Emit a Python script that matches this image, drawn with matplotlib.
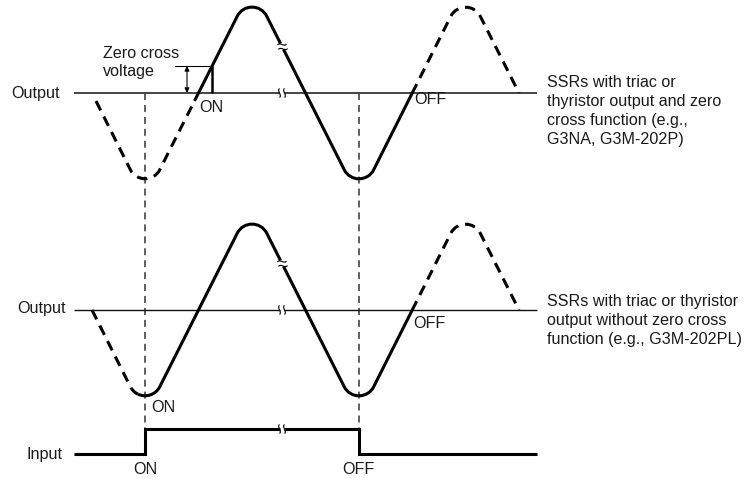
import math
import matplotlib
matplotlib.use("Agg")
import matplotlib.pyplot as plt
from matplotlib.path import Path
from matplotlib.patches import PathPatch

plt.rcParams['lines.scale_dashes'] = False
plt.rcParams['font.family'] = ['Liberation Sans', 'DejaVu Sans']

# ---------------- data (diagram units = pixels) ----------------
top_base_y = 93
mid_base_y = 310
input_low_y = 454
input_high_y = 429

# triangle-wave turning points (start, trough, peak, trough, peak, end)
wave_x = [92, 145, 252, 359, 465.5, 519]
wave_level = [0, -106, 106, -106, 106, 0]
corner_r = 16.5

# x-ranges of each drawn piece of the waveforms
top_pieces = [((96, 194.5), 'dashed'), ((194.5, 280.5), 'solid'),
              ((283.5, 412), 'solid'), ((412, 519), 'dashed')]
mid_pieces = [((92, 138), 'dashed'), ((138, 280.5), 'solid'),
              ((283.5, 412), 'solid'), ((412, 519), 'dashed')]

baseline_x = [74, 280, 284, 537]
input_x = [74, 145, 145, 280]
input_lvl = [0, 0, 1, 1]
input_x2 = [284, 359, 359, 537]
input_lvl2 = [1, 1, 0, 0]
marker_x = [145, 359]

zero_cross_v = 27
on_x = 211.5

top_label = "SSRs with triac or\nthyristor output and zero\ncross function (e.g.,\nG3NA, G3M-202P)"
mid_label = "SSRs with triac or thyristor\noutput without zero cross\nfunction (e.g., G3M-202PL)"

# ---------------- helpers ----------------
def unit(v):
    n = math.hypot(v[0], v[1])
    return (v[0] / n, v[1] / n)

def build_prims(base):
    pts = [(x, base - v) for x, v in zip(wave_x, wave_level)]
    prims = []
    cur = pts[0]
    for i in range(1, len(pts) - 1):
        a = pts[i]
        d1 = unit((a[0] - pts[i - 1][0], a[1] - pts[i - 1][1]))
        d2 = unit((pts[i + 1][0] - a[0], pts[i + 1][1] - a[1]))
        cosb = -(d1[0] * d2[0] + d1[1] * d2[1])
        beta = math.acos(max(-1, min(1, cosb)))
        L = corner_r / math.tan(beta / 2)
        phi = math.pi - beta
        k = 4.0 / 3.0 * math.tan(phi / 4) * corner_r
        t1 = (a[0] - d1[0] * L, a[1] - d1[1] * L)
        t2 = (a[0] + d2[0] * L, a[1] + d2[1] * L)
        c1 = (t1[0] + d1[0] * k, t1[1] + d1[1] * k)
        c2 = (t2[0] - d2[0] * k, t2[1] - d2[1] * k)
        prims.append(('L', cur, t1))
        prims.append(('C', t1, c1, c2, t2))
        cur = t2
    prims.append(('L', cur, pts[-1]))
    return prims

def lerp(p, q, t):
    return (p[0] + t * (q[0] - p[0]), p[1] + t * (q[1] - p[1]))

def split_cubic(P, t):
    p0, p1, p2, p3 = P
    a = lerp(p0, p1, t); b = lerp(p1, p2, t); c = lerp(p2, p3, t)
    d = lerp(a, b, t); e = lerp(b, c, t); f = lerp(d, e, t)
    return (p0, a, d, f), (f, e, c, p3)

def cubic_x(P, t):
    return ((1 - t) ** 3 * P[0][0] + 3 * t * (1 - t) ** 2 * P[1][0]
            + 3 * t ** 2 * (1 - t) * P[2][0] + t ** 3 * P[3][0])

def t_for_x(P, x):
    lo, hi = 0.0, 1.0
    for _ in range(60):
        m = (lo + hi) / 2
        if cubic_x(P, m) < x:
            lo = m
        else:
            hi = m
    return (lo + hi) / 2

def sub_path(prims, x0, x1):
    verts, codes = [], []
    for pr in prims:
        if pr[0] == 'L':
            p, q = pr[1], pr[2]
            a, b = max(x0, p[0]), min(x1, q[0])
            if b <= a:
                continue
            f = lambda x: (x, p[1] + (x - p[0]) / (q[0] - p[0]) * (q[1] - p[1]))
            if not verts:
                verts.append(f(a)); codes.append(Path.MOVETO)
            verts.append(f(b)); codes.append(Path.LINETO)
        else:
            P = pr[1:]
            a, b = max(x0, P[0][0]), min(x1, P[3][0])
            if b <= a:
                continue
            ta = t_for_x(P, a) if a > P[0][0] else 0.0
            tb = t_for_x(P, b) if b < P[3][0] else 1.0
            seg = P
            if ta > 0:
                seg = split_cubic(seg, ta)[1]
            if tb < 1:
                seg = split_cubic(seg, (tb - ta) / (1 - ta))[0]
            if not verts:
                verts.append(seg[0]); codes.append(Path.MOVETO)
            verts += [seg[1], seg[2], seg[3]]
            codes += [Path.CURVE4] * 3
    return Path(verts, codes)

fig = plt.figure(figsize=(7.44, 4.79), dpi=100)
ax = fig.add_axes([0, 0, 1, 1])
ax.set_xlim(0, 744)
ax.set_ylim(479, 0)
ax.axis('off')

WAVE_LW = 2.2
DASH = (0, (7.5, 5.0))

def draw_wave(base, pieces):
    prims = build_prims(base)
    for (x0, x1), style in pieces:
        p = sub_path(prims, x0, x1)
        ls = DASH if style == 'dashed' else 'solid'
        ax.add_patch(PathPatch(p, fill=False, lw=WAVE_LW, ec='black', ls=ls,
                               capstyle='butt', joinstyle='round', zorder=3))

draw_wave(top_base_y, top_pieces)
draw_wave(mid_base_y, mid_pieces)

# baselines
ax.plot(baseline_x[:2], [top_base_y] * 2, color='#444444', lw=1.4, solid_capstyle='butt')
ax.plot(baseline_x[2:], [top_base_y] * 2, color='#444444', lw=1.4, solid_capstyle='butt')
ax.plot(baseline_x[:2], [mid_base_y] * 2, color='#111111', lw=1.0, solid_capstyle='butt')
ax.plot(baseline_x[2:], [mid_base_y] * 2, color='#111111', lw=1.0, solid_capstyle='butt')

# input signal
lvl_y = lambda l: input_high_y if l else input_low_y
ax.plot(input_x, [lvl_y(l) for l in input_lvl], color='black', lw=2.2,
        solid_joinstyle='miter', solid_capstyle='butt')
ax.plot(input_x2, [lvl_y(l) for l in input_lvl2], color='black', lw=2.2,
        solid_joinstyle='miter', solid_capstyle='butt')

# vertical dashed markers
for mx in marker_x:
    ax.plot([mx, mx], [top_base_y, input_high_y], color='#333333', lw=1.1,
            ls=(0, (5.0, 3.6)), zorder=1)

# break marks
def squiggle(cx, cy, vertical, size=4.5):
    if vertical:
        v = [(cx, cy - size), (cx - 3, cy - size / 2), (cx + 3, cy + size / 2), (cx, cy + size)]
    else:
        v = [(cx - size, cy + 0.5), (cx - size / 2, cy - 3), (cx + size / 2, cy + 3), (cx + size, cy - 0.5)]
    ax.add_patch(PathPatch(Path(v, [Path.MOVETO, Path.CURVE4, Path.CURVE4, Path.CURVE4]),
                           fill=False, lw=0.8, ec='black', zorder=4))

for by in (top_base_y, mid_base_y, input_high_y):
    squiggle(279.5, by, True)
    squiggle(284.5, by, True)
for base in (top_base_y, mid_base_y):
    yl = base - 46
    squiggle(282, yl - 2.5, False, 4.5)
    squiggle(283, yl + 2.0, False, 4.5)

# zero cross voltage annotation
zy = top_base_y - zero_cross_v
ax.plot([on_x, on_x], [top_base_y, zy], color='black', lw=1.8, solid_capstyle='butt')
ax.plot([175, on_x], [zy, zy], color='black', lw=0.8)
ax.annotate('', xy=(187, zy), xytext=(187, top_base_y),
            arrowprops=dict(arrowstyle='<|-|>', lw=0.8, color='black',
                            mutation_scale=7, shrinkA=0, shrinkB=0))

FS = 11.6
TC = '#1a1a1a'
ax.text(60, top_base_y, 'Output', ha='right', va='center', fontsize=FS, color=TC)
ax.text(66, mid_base_y - 2, 'Output', ha='right', va='center', fontsize=FS, color=TC)
ax.text(62, input_low_y, 'Input', ha='right', va='center', fontsize=FS, color=TC)
ax.text(103, 53, 'Zero cross', ha='left', va='center', fontsize=FS, color=TC)
ax.text(103, 71, 'voltage', ha='left', va='center', fontsize=FS, color=TC)
ax.text(199, 107, 'ON', ha='left', va='center', fontsize=FS, color=TC)
ax.text(414, 99, 'OFF', ha='left', va='center', fontsize=FS, color=TC)
ax.text(413, 323, 'OFF', ha='left', va='center', fontsize=FS, color=TC)
ax.text(151, 407, 'ON', ha='left', va='center', fontsize=FS, color=TC)
ax.text(145, 470, 'ON', ha='center', va='center', fontsize=FS, color=TC)
ax.text(358, 470, 'OFF', ha='center', va='center', fontsize=FS, color=TC)
ax.text(547, 75, top_label, ha='left', va='top', fontsize=FS, color=TC, linespacing=1.33)
ax.text(547, 294, mid_label, ha='left', va='top', fontsize=FS, color=TC, linespacing=1.33)

fig.savefig('out.png', dpi=100)
